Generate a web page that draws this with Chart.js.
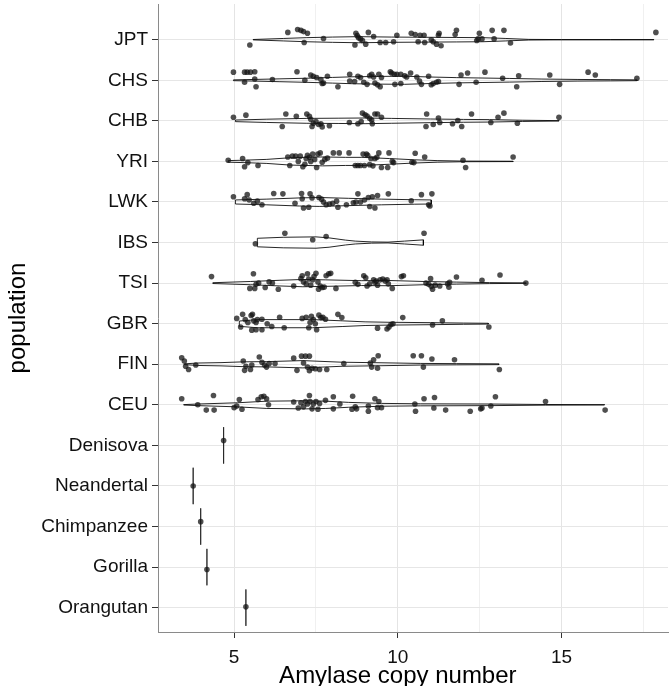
<!DOCTYPE html>
<html>
<head>
<meta charset="utf-8">
<script src="https://cdn.jsdelivr.net/npm/chart.js@4.4.1/dist/chart.umd.min.js"></script>
<style>
  html, body { margin: 0; padding: 0; background: #fff; }
</style>
</head>
<body>
<canvas id="grafico" width="672" height="686"></canvas>
<script>
const populations = ['JPT', 'CHS', 'CHB', 'YRI', 'LWK', 'IBS', 'TSI', 'GBR', 'FIN', 'CEU',
    'Denisova', 'Neandertal', 'Chimpanzee', 'Gorilla', 'Orangutan'];
const xMajorTicks = [5, 10, 15];
const xMinorTicks = [7.5, 12.5, 17.5];
const xTitle = 'Amylase copy number';
const yTitle = 'population';

// copy numbers per individual, with the vertical jitter seen in the picture
const jptCopy = [5.48, 6.64, 6.94, 7.04, 7.12, 7.24, 7.14, 7.73, 8.72, 8.76, 8.80, 8.86, 8.92, 8.69, 9.02, 9.10, 9.26, 9.46, 9.63, 9.87, 9.97, 10.41, 10.53, 10.68, 10.80, 10.62, 10.82, 11.02, 11.08, 11.18, 11.32, 11.26, 11.24, 11.75, 11.79, 12.41, 12.45, 12.49, 12.57, 12.88, 12.94, 13.24, 13.44, 17.88];
const jptJit = [0.13, -0.18, -0.25, -0.23, -0.2, -0.16, 0.07, -0.03, -0.16, -0.1, -0.05, -0.02, 0.02, 0.13, 0.11, -0.18, -0.08, 0.07, 0.07, 0.05, -0.11, -0.16, -0.13, -0.11, -0.11, 0.05, 0.07, 0, 0.05, 0.11, 0.15, -0.16, -0.11, -0.13, -0.23, 0.02, -0.02, -0.16, -0.02, -0.23, -0.02, -0.23, 0.08, -0.18];

const chsCopy = [4.98, 5.32, 5.40, 5.50, 5.63, 5.32, 5.63, 5.67, 6.17, 6.92, 7.16, 7.34, 7.42, 7.52, 7.65, 7.69, 7.73, 7.85, 8.17, 8.53, 8.53, 8.68, 8.78, 8.86, 8.96, 9.06, 9.14, 9.20, 9.26, 9.30, 9.38, 9.46, 9.42, 9.50, 9.77, 9.81, 9.89, 9.97, 10.09, 10.21, 10.27, 10.39, 9.91, 10.09, 10.58, 10.66, 10.72, 10.94, 11.02, 11.08, 11.18, 11.24, 11.87, 11.93, 12.13, 12.39, 12.66, 13.20, 13.63, 13.69, 14.64, 14.94, 15.81, 16.03, 17.30];
const chsJit = [-0.2, -0.2, -0.2, -0.2, -0.21, 0.05, -0.03, 0.16, -0.02, -0.21, 0, -0.13, -0.1, -0.07, -0.02, 0.08, 0.07, -0.1, 0.16, -0.15, 0.02, 0.03, -0.1, -0.07, 0.05, 0.1, -0.11, -0.15, -0.08, 0.07, 0.11, 0.16, -0.15, -0.07, -0.21, -0.18, -0.15, -0.15, -0.15, -0.11, -0.08, -0.18, 0.1, 0.08, -0.08, 0.02, 0.1, -0.1, 0.11, 0.08, 0.05, 0.03, 0.1, -0.13, -0.18, 0.05, -0.2, -0.05, 0.16, -0.11, -0.13, 0.1, -0.2, -0.13, -0.05];

const chbCopy = [4.98, 5.36, 6.47, 6.58, 6.90, 7.22, 7.30, 7.34, 7.42, 7.38, 7.50, 7.58, 7.69, 7.65, 7.91, 8.52, 8.78, 8.88, 8.92, 9.00, 9.06, 9.14, 9.22, 9.20, 9.30, 9.38, 9.50, 10.88, 10.86, 11.08, 11.24, 11.28, 11.67, 11.83, 11.95, 12.25, 12.84, 13.06, 13.24, 13.65, 14.92];
const chbJit = [-0.09, -0.14, 0.14, -0.17, -0.11, -0.17, -0.11, -0.04, 0.06, 0.14, 0.02, 0.09, 0.15, 0.07, 0.12, 0.04, 0.07, 0.02, -0.19, -0.15, -0.12, -0.06, 0.07, -0.02, -0.17, -0.17, -0.09, -0.17, 0.14, 0.09, -0.07, 0.04, 0.07, -0.01, 0.14, -0.17, 0.04, -0.09, -0.19, 0.06, -0.09];

const yriCopy = [4.82, 5.26, 5.32, 5.42, 5.73, 6.64, 6.70, 6.78, 6.88, 6.96, 7.02, 7.10, 7.16, 7.20, 7.24, 7.30, 7.34, 7.40, 7.46, 7.52, 7.56, 7.63, 7.69, 7.77, 7.85, 8.03, 8.21, 8.51, 8.70, 8.78, 8.86, 8.94, 8.98, 9.04, 9.08, 9.14, 9.18, 9.24, 9.30, 9.36, 9.42, 9.50, 9.69, 9.73, 9.83, 9.87, 10.43, 10.49, 10.53, 10.82, 11.99, 12.07, 13.52];
const yriJit = [-0.03, -0.07, 0.13, 0.03, 0.1, -0.11, 0.1, -0.13, -0.13, 0, -0.13, 0.13, 0.07, -0.07, -0.15, -0.1, 0, -0.18, -0.05, 0.15, -0.18, -0.21, 0.02, -0.05, -0.08, -0.21, -0.21, -0.21, 0.1, 0.1, 0.1, -0.18, 0.1, -0.18, -0.15, 0.08, -0.07, 0.11, -0.07, -0.1, -0.21, 0.15, 0.15, -0.21, 0, 0.03, 0.02, 0.03, -0.2, -0.11, -0.03, 0.15, -0.11];

const lwkCopy = [4.98, 5.32, 5.40, 5.46, 5.60, 5.71, 5.85, 6.21, 6.49, 6.86, 7.06, 7.08, 7.12, 7.28, 7.32, 7.38, 7.59, 7.67, 7.73, 7.81, 7.91, 8.01, 8.13, 8.17, 8.43, 8.64, 8.72, 8.78, 8.86, 8.98, 9.10, 9.14, 9.22, 9.30, 9.38, 9.71, 10.41, 10.72, 10.94, 10.98, 11.04];
const lwkJit = [-0.13, -0.08, -0.18, -0.05, 0.03, -0.02, 0.07, -0.21, -0.2, 0.03, -0.21, -0.08, 0.15, 0.13, -0.2, -0.1, -0.11, -0.07, 0, 0.07, 0.05, 0.03, -0.02, 0.13, 0.07, 0.02, 0, -0.2, 0, -0.05, -0.11, 0.11, -0.13, 0.15, -0.16, -0.2, -0.03, -0.18, 0.07, 0.1, -0.2];

const ibsCopy = [5.65, 6.55, 7.40, 7.81, 10.80];
const ibsJit = [0.03, -0.23, -0.07, -0.15, -0.23];

const tsiCopy = [4.31, 5.59, 5.48, 5.63, 5.67, 5.75, 5.95, 6.07, 6.17, 6.35, 6.82, 7.04, 7.08, 7.12, 7.20, 7.24, 7.28, 7.34, 7.40, 7.44, 7.50, 7.56, 7.58, 7.63, 7.69, 7.75, 7.81, 7.89, 7.95, 8.11, 8.70, 8.78, 8.96, 9.02, 9.06, 9.14, 9.26, 9.30, 9.34, 9.38, 9.46, 9.54, 9.61, 9.67, 9.71, 9.83, 10.11, 10.17, 10.86, 10.94, 11.00, 11.02, 11.06, 11.14, 11.28, 11.52, 11.56, 11.58, 11.79, 12.57, 13.12, 13.91];
const tsiJit = [-0.16, -0.23, 0.13, 0.13, 0.03, 0, 0.11, -0.03, 0, 0.15, 0.07, -0.11, -0.18, -0.03, 0.02, -0.23, -0.1, 0.05, -0.08, -0.16, -0.24, -0.03, 0.15, 0.07, 0.11, 0.1, -0.18, -0.23, -0.24, 0.13, -0.02, 0.03, -0.18, -0.13, 0.07, 0.02, -0.08, -0.02, -0.05, 0.05, -0.08, -0.1, -0.05, -0.08, 0.02, 0.13, -0.16, -0.18, 0, 0.03, -0.11, 0.08, 0.15, 0.05, 0.07, 0.02, 0.1, -0.02, -0.15, -0.07, -0.2, 0];

const gbrCopy = [5.08, 5.20, 5.26, 5.34, 5.42, 5.52, 5.56, 5.60, 5.67, 5.71, 5.54, 5.67, 5.85, 5.85, 6.01, 6.15, 6.39, 6.53, 7.08, 7.20, 7.28, 7.32, 7.36, 7.42, 7.48, 7.52, 7.59, 7.65, 7.71, 7.79, 8.17, 8.29, 9.38, 9.67, 9.73, 9.79, 9.85, 10.15, 11.06, 11.36, 12.78];
const gbrJit = [-0.13, 0.08, -0.23, -0.1, -0.03, -0.2, -0.23, -0.07, -0.03, -0.1, 0.16, 0.15, 0.15, -0.11, 0, 0.07, -0.16, 0.1, -0.13, -0.16, 0.1, -0.03, -0.18, -0.1, 0, 0.15, -0.21, -0.15, -0.16, -0.11, -0.23, -0.15, 0.11, 0.13, 0.08, 0.02, 0, -0.15, 0.03, -0.07, 0.08];

const finCopy = [3.40, 3.48, 3.52, 3.61, 3.83, 5.28, 5.32, 5.36, 5.50, 5.54, 5.77, 5.85, 5.93, 5.99, 6.07, 6.25, 6.82, 6.92, 7.06, 7.18, 7.30, 7.12, 7.24, 7.30, 7.38, 7.48, 7.61, 7.83, 8.35, 9.16, 9.20, 9.26, 9.38, 9.40, 10.47, 10.72, 10.78, 11.04, 11.73, 13.10];
const finJit = [-0.16, -0.08, 0.05, 0.13, 0.02, -0.08, 0.15, 0.05, 0.13, 0.02, -0.18, -0.05, 0.02, 0.07, -0.02, -0.02, -0.15, 0.15, -0.2, -0.2, -0.2, -0.03, 0.07, 0.16, 0.1, 0.11, 0.13, 0.13, -0.02, -0.03, 0.07, -0.11, 0.1, -0.21, -0.21, -0.21, 0.07, -0.13, -0.11, 0.13];

const ceuCopy = [3.40, 3.89, 4.15, 4.39, 4.37, 5.00, 5.08, 5.16, 5.24, 5.73, 5.83, 5.91, 5.99, 6.05, 6.82, 6.96, 7.04, 7.12, 7.18, 7.24, 7.30, 7.32, 7.38, 7.42, 7.50, 7.56, 7.61, 7.79, 8.03, 8.03, 8.23, 8.62, 8.60, 8.70, 8.74, 9.10, 9.10, 9.30, 9.38, 9.42, 9.50, 10.52, 10.54, 10.80, 11.12, 11.10, 11.46, 12.21, 12.53, 12.57, 12.84, 12.98, 14.51, 16.33];
const ceuJit = [-0.15, 0, 0.13, 0.13, -0.23, 0.07, 0.03, -0.13, 0.11, -0.13, -0.2, -0.21, -0.15, 0, -0.07, 0.08, -0.05, 0.05, -0.08, -0.02, -0.23, -0.08, 0.1, -0.02, -0.08, 0.11, -0.03, -0.11, -0.2, 0.1, -0.02, -0.21, 0.11, 0.05, 0.1, 0.03, 0.16, -0.15, 0.07, -0.08, 0.07, -0.02, 0.16, -0.15, -0.18, 0.08, 0.13, 0.16, 0.1, 0.08, 0.03, -0.2, -0.08, 0.13];

// archaic humans and apes: one genome each
const archaicCopy = [4.68, 3.75, 3.98, 4.17, 5.36];
const archaicJit = [-0.12, 0, -0.12, 0.06, -0.02];
const archaicSpan = [0.45, 0.45, 0.45, 0.45, 0.45];

// violin outlines: copy number and half width (in category units)
const jptViolinX = [5.58, 6.5, 7.2, 8.0, 8.8, 9.8, 10.8, 11.8, 12.6, 13.3, 14.0, 15.0, 16.5, 17.82];
const jptViolinW = [0.005, 0.03, 0.05, 0.065, 0.075, 0.065, 0.06, 0.055, 0.05, 0.03, 0.008, 0.003, 0.002, 0.001];
const chsViolinX = [4.98, 5.6, 6.4, 7.2, 8.0, 8.6, 9.4, 10.2, 11.0, 11.8, 12.6, 13.4, 14.4, 15.5, 16.5, 17.30];
const chsViolinW = [0.01, 0.02, 0.035, 0.05, 0.07, 0.085, 0.095, 0.1, 0.08, 0.065, 0.055, 0.045, 0.03, 0.02, 0.015, 0.01];
const chbViolinX = [5.04, 6.0, 7.2, 8.2, 9.0, 9.8, 11.0, 12.0, 12.8, 13.8, 14.92];
const chbViolinW = [0.02, 0.04, 0.06, 0.065, 0.07, 0.06, 0.045, 0.035, 0.03, 0.015, 0.005];
const yriViolinX = [4.82, 5.3, 6.0, 6.7, 7.7, 8.4, 8.9, 9.75, 10.5, 11.2, 12.0, 13.52];
const yriViolinW = [0.02, 0.03, 0.05, 0.09, 0.11, 0.1, 0.1, 0.07, 0.04, 0.02, 0.008, 0.004];
const lwkViolinX = [5.04, 6.0, 7.0, 7.6, 8.5, 9.5, 10.5, 11.02];
const lwkViolinW = [0.05, 0.07, 0.1, 0.11, 0.09, 0.07, 0.055, 0.05];
const ibsViolinX = [5.71, 6.5, 7.5, 7.9, 8.4, 8.7, 9.2, 9.7, 10.2, 10.78];
const ibsViolinW = [0.105, 0.13, 0.14, 0.115, 0.06, 0.035, 0.015, 0.01, 0.035, 0.066];
const tsiViolinX = [4.35, 5.5, 6.4, 7.1, 7.8, 8.9, 9.7, 10.8, 11.8, 12.8, 13.91];
const tsiViolinW = [0.01, 0.04, 0.07, 0.09, 0.08, 0.06, 0.065, 0.04, 0.025, 0.012, 0.005];
const gbrViolinX = [5.16, 5.7, 6.5, 7.4, 8.3, 9.0, 9.7, 11.0, 12.0, 12.76];
const gbrViolinW = [0.065, 0.1, 0.1, 0.1, 0.07, 0.045, 0.035, 0.025, 0.015, 0.01];
const finViolinX = [3.48, 3.9, 4.6, 5.3, 6.0, 7.1, 8.3, 9.2, 10.7, 11.8, 13.08];
const finViolinW = [0.01, 0.03, 0.04, 0.06, 0.065, 0.09, 0.05, 0.04, 0.02, 0.015, 0.01];
const ceuViolinX = [3.46, 3.9, 5.1, 6.0, 7.2, 7.8, 8.5, 9.5, 10.7, 12.8, 14.5, 16.31];
const ceuViolinW = [0.005, 0.02, 0.05, 0.09, 0.1, 0.09, 0.06, 0.035, 0.025, 0.02, 0.008, 0.003];

const grupos = [
    { copy: jptCopy, jit: jptJit, vx: jptViolinX, vw: jptViolinW },
    { copy: chsCopy, jit: chsJit, vx: chsViolinX, vw: chsViolinW },
    { copy: chbCopy, jit: chbJit, vx: chbViolinX, vw: chbViolinW },
    { copy: yriCopy, jit: yriJit, vx: yriViolinX, vw: yriViolinW },
    { copy: lwkCopy, jit: lwkJit, vx: lwkViolinX, vw: lwkViolinW },
    { copy: ibsCopy, jit: ibsJit, vx: ibsViolinX, vw: ibsViolinW },
    { copy: tsiCopy, jit: tsiJit, vx: tsiViolinX, vw: tsiViolinW },
    { copy: gbrCopy, jit: gbrJit, vx: gbrViolinX, vw: gbrViolinW },
    { copy: finCopy, jit: finJit, vx: finViolinX, vw: finViolinW },
    { copy: ceuCopy, jit: ceuJit, vx: ceuViolinX, vw: ceuViolinW }
];

const fontFamily = '"Liberation Sans", Arial, Helvetica, sans-serif';

function contorno(idx, xs, ws) {
    const arriba = xs.map((x, i) => ({ x: x, y: idx - ws[i] }));
    const abajo = xs.map((x, i) => ({ x: x, y: idx + ws[i] })).reverse();
    return arriba.concat(abajo, [arriba[0]]);
}

const datasets = [];

grupos.forEach((g, i) => {
    datasets.push({
        data: contorno(i, g.vx, g.vw),
        showLine: true,
        pointRadius: 0,
        borderColor: 'rgba(0,0,0,0.85)',
        borderWidth: 1,
        tension: 0,
        order: 2
    });
});

// single-value violins collapse to a vertical line
archaicCopy.forEach((v, k) => {
    const idx = grupos.length + k;
    datasets.push({
        data: [{ x: v, y: idx - archaicSpan[k] }, { x: v, y: idx + archaicSpan[k] }],
        showLine: true,
        pointRadius: 0,
        borderColor: 'rgba(0,0,0,0.65)',
        borderWidth: 0.8,
        order: 2
    });
});

const puntos = [];
grupos.forEach((g, i) => {
    g.copy.forEach((v, j) => puntos.push({ x: v, y: i + g.jit[j] }));
});
archaicCopy.forEach((v, k) => puntos.push({ x: v, y: grupos.length + k + archaicJit[k] }));

datasets.push({
    data: puntos,
    pointRadius: 2.8,
    pointBorderWidth: 0,
    backgroundColor: 'rgba(20,20,20,0.75)',
    borderColor: 'rgba(0,0,0,0)',
    order: 0
});

// x axis title sits under the value 10, as in the original figure
const tituloX = {
    id: 'tituloX',
    afterDraw(chart) {
        const ctx = chart.ctx;
        const x = chart.scales.x;
        ctx.save();
        ctx.font = '24px ' + fontFamily;
        ctx.fillStyle = '#000';
        ctx.textAlign = 'center';
        ctx.textBaseline = 'alphabetic';
        ctx.fillText(xTitle, x.getPixelForValue(10), chart.height - 3);
        ctx.restore();
    }
};

new Chart(document.getElementById('grafico').getContext('2d'), {
    type: 'scatter',
    data: { datasets: datasets },
    plugins: [tituloX],
    options: {
        responsive: false,
        animation: false,
        events: [],
        layout: { padding: 0 },
        plugins: {
            legend: { display: false },
            tooltip: { enabled: false }
        },
        scales: {
            x: {
                type: 'linear',
                min: 2.676,
                max: 18.25,
                afterBuildTicks: function(scale) {
                    scale.ticks = xMajorTicks.concat(xMinorTicks)
                        .sort((a, b) => a - b)
                        .map(v => ({ value: v }));
                },
                afterFit: function(scale) {
                    scale.height = 54;
                    scale.paddingLeft = 0;
                    scale.paddingRight = 0;
                },
                ticks: {
                    autoSkip: false,
                    maxRotation: 0,
                    padding: 8,
                    color: '#111',
                    font: { family: fontFamily, size: 19 },
                    callback: v => xMajorTicks.includes(v) ? String(v) : ''
                },
                grid: {
                    color: c => (c.tick && xMajorTicks.includes(c.tick.value)) ? '#e4e4e4' : '#f0f0f0',
                    tickColor: c => (c.tick && xMajorTicks.includes(c.tick.value)) ? '#333' : 'rgba(0,0,0,0)',
                    tickLength: 6,
                    lineWidth: 1
                },
                border: { color: '#8a8a8a', width: 1 }
            },
            y: {
                type: 'linear',
                reverse: true,
                min: -0.88,
                max: 14.6,
                afterBuildTicks: function(scale) {
                    scale.ticks = populations.map((p, i) => ({ value: i }));
                },
                afterFit: function(scale) {
                    scale.width = 158;
                    scale.paddingTop = 0;
                    scale.paddingBottom = 0;
                },
                ticks: {
                    autoSkip: false,
                    padding: 4,
                    color: '#111',
                    font: { family: fontFamily, size: 19 },
                    callback: v => populations[v]
                },
                grid: {
                    color: '#e6e6e6',
                    tickColor: '#333',
                    tickLength: 6,
                    lineWidth: 1
                },
                border: { color: '#8a8a8a', width: 1 },
                title: {
                    display: true,
                    text: yTitle,
                    color: '#000',
                    font: { family: fontFamily, size: 24, lineHeight: 1 },
                    padding: { top: 6, bottom: 0 }
                }
            }
        }
    }
});
</script>
</body>
</html>
